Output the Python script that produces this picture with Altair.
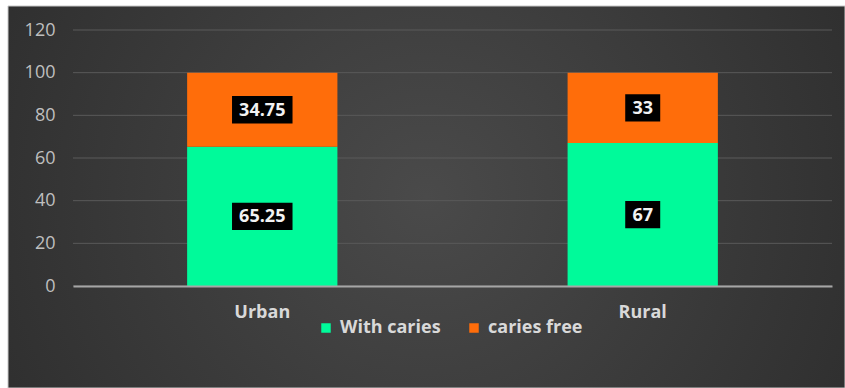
import altair as alt
import pandas as pd

categories = ["Urban", "Rural"]
series = ["With caries", "caries free"]
with_caries = [65.25, 67]
caries_free = [34.75, 33]
label_with = ["65.25", "67"]
label_free = ["34.75", "33"]
y_ticks = [0, 20, 40, 60, 80, 100, 120]
colors = ["#00FA9A", "#FF6D0A"]

rows = []
for i, c in enumerate(categories):
    rows.append({"Area": c, "Group": series[0], "Value": with_caries[i], "Label": label_with[i], "order": 0})
    rows.append({"Area": c, "Group": series[1], "Value": caries_free[i], "Label": label_free[i], "order": 1})
df = pd.DataFrame(rows)
ticks_df = pd.DataFrame({"t": y_ticks})

FONT = "Open Sans"

x_enc = alt.X("Area:N", sort=categories, title=None,
              scale=alt.Scale(paddingInner=0.605, paddingOuter=0.3),
              axis=alt.Axis(labelAngle=0, labelFontWeight="bold", labelFontSize=18,
                            labelColor="#d9d9d9", labelFont=FONT, labelPadding=17,
                            ticks=False, domainColor="#a6a6a6", domainWidth=2,
                            grid=False, zindex=1))
y_scale = alt.Scale(domain=[0, 120])
y_axis = alt.Axis(values=y_ticks, labelFontSize=18, labelColor="#bfbfbf", labelFont=FONT,
                  labelPadding=18, ticks=False, domain=False, grid=False, zindex=1)

bg = alt.Chart(pd.DataFrame({"a": [0]})).mark_rect(
    color=alt.RadialGradient(gradient="radial",
                             stops=[alt.GradientStop(color="#4a4a4a", offset=0),
                                    alt.GradientStop(color="#262626", offset=1)],
                             x1=0.5, y1=0.5, r1=0, x2=0.5, y2=0.5, r2=0.75),
    stroke="#c8c8c8", strokeWidth=1
).encode(x=alt.value(-65), x2=alt.value(772), y=alt.value(-24), y2=alt.value(358))

grid = alt.Chart(ticks_df).mark_rule(color="#5a5a5a", strokeWidth=1).encode(
    y=alt.Y("t:Q", scale=y_scale, axis=y_axis, title=None),
)

bars = alt.Chart(df).mark_bar().encode(
    x=x_enc,
    y=alt.Y("sum(Value):Q", stack="zero", scale=y_scale, title=None, axis=y_axis),
    color=alt.Color("Group:N", sort=series,
                    scale=alt.Scale(domain=series, range=colors),
                    legend=alt.Legend(title=None, orient="none", direction="horizontal",
                                      legendX=244, legendY=289, symbolType="square",
                                      symbolSize=90, symbolStrokeWidth=0, labelFontSize=18,
                                      labelFontWeight="bold", labelColor="#d9d9d9",
                                      labelFont=FONT, columnPadding=24, labelOffset=5)),
    order=alt.Order("order:Q"),
)

base = alt.Chart(df).transform_stack(
    stack="Value", groupby=["Area"], as_=["lo", "hi"], sort=[alt.SortField("order")]
).transform_calculate(
    mid="(datum.lo + datum.hi) / 2",
    blo="(datum.lo + datum.hi) / 2 - 6.4",
    bhi="(datum.lo + datum.hi) / 2 + 6.4",
    bw="length(datum.Label) * 8.5 + 18",
)

boxes = base.mark_bar(color="black").encode(
    x=alt.X("Area:N", sort=categories),
    y=alt.Y("blo:Q", scale=y_scale, axis=y_axis, title=None),
    y2="bhi:Q",
    size=alt.Size("bw:Q", scale=None, legend=None),
)

texts = base.mark_text(color="#f2f2f2", fontWeight="bold", fontSize=18, font=FONT,
                       baseline="middle", dy=1).encode(
    x=alt.X("Area:N", sort=categories),
    y=alt.Y("mid:Q", scale=y_scale, axis=y_axis, title=None),
    text="Label:N",
)

chart = alt.layer(bg, grid, bars, boxes, texts).properties(
    width=759, height=256,
    padding={"left": 73, "top": 30, "right": 13, "bottom": 102},
    autosize=alt.AutoSizeParams(type="none"),
    background="white",
).configure_view(stroke=None)

chart.save("out.html", embed_options={"renderer": "svg", "actions": False})
